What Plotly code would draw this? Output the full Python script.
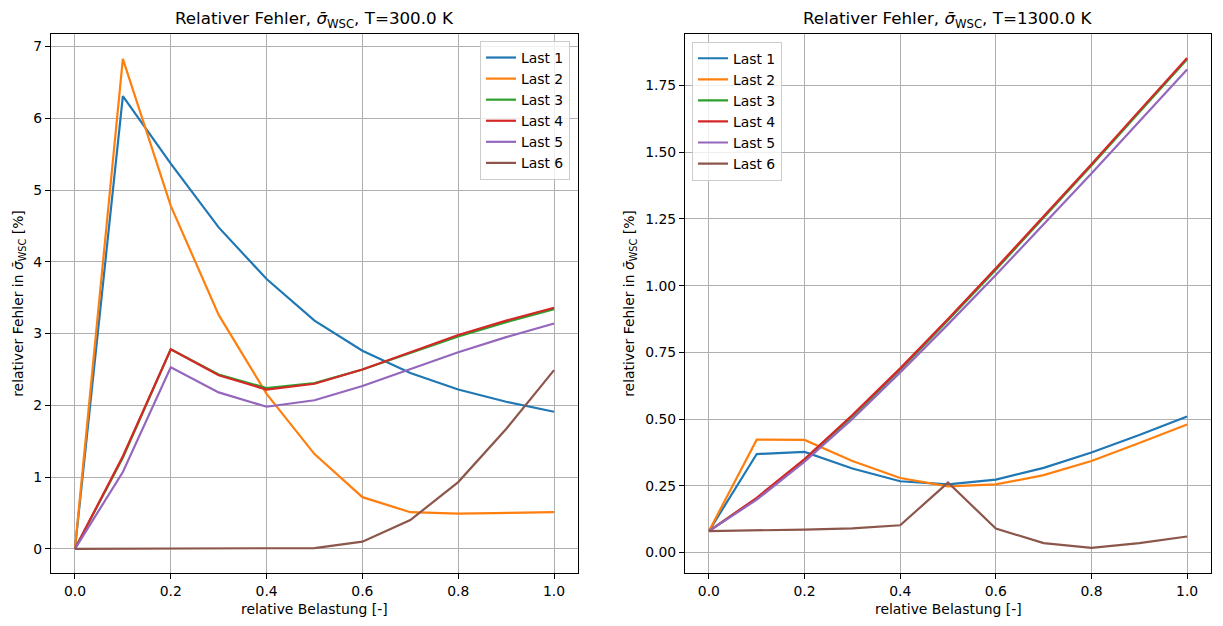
import plotly.graph_objects as go

x_load = [0.0, 0.1, 0.2, 0.3, 0.4, 0.5, 0.6, 0.7, 0.8, 0.9, 1.0]
series_names = ["Last 1", "Last 2", "Last 3", "Last 4", "Last 5", "Last 6"]
colors = ["#1f77b4", "#ff7f0e", "#2ca02c", "#d62728", "#9467bd", "#8c564b"]

# T = 300 K
t300_last1 = [0.0, 6.31, 5.37, 4.48, 3.76, 3.18, 2.76, 2.45, 2.22, 2.05, 1.91]
t300_last2 = [0.0, 6.83, 4.78, 3.26, 2.16, 1.32, 0.72, 0.51, 0.49, 0.50, 0.51]
t300_last3 = [0.0, 1.27, 2.78, 2.43, 2.24, 2.31, 2.50, 2.73, 2.96, 3.16, 3.34]
t300_last4 = [0.0, 1.29, 2.78, 2.42, 2.22, 2.30, 2.50, 2.74, 2.98, 3.18, 3.36]
t300_last5 = [0.0, 1.07, 2.53, 2.18, 1.98, 2.07, 2.27, 2.51, 2.74, 2.95, 3.14]
t300_last6 = [0.0, 0.0, 0.0, 0.0, 0.0, 0.01, 0.10, 0.40, 0.93, 1.67, 2.49]

# T = 1300 K
t1300_last1 = [0.08, 0.369, 0.377, 0.315, 0.267, 0.255, 0.273, 0.317, 0.375, 0.44, 0.51]
t1300_last2 = [0.08, 0.423, 0.422, 0.343, 0.279, 0.248, 0.255, 0.29, 0.343, 0.41, 0.48]
t1300_last3 = [0.08, 0.203, 0.348, 0.51, 0.685, 0.87, 1.06, 1.255, 1.45, 1.65, 1.848]
t1300_last4 = [0.08, 0.205, 0.35, 0.515, 0.69, 0.875, 1.065, 1.26, 1.455, 1.655, 1.853]
t1300_last5 = [0.08, 0.198, 0.34, 0.50, 0.675, 0.855, 1.04, 1.23, 1.42, 1.615, 1.81]
t1300_last6 = [0.08, 0.082, 0.086, 0.09, 0.102, 0.262, 0.09, 0.035, 0.017, 0.035, 0.06]

x_ticks = [0.0, 0.2, 0.4, 0.6, 0.8, 1.0]
x_ticklabels = ["0.0", "0.2", "0.4", "0.6", "0.8", "1.0"]
y_ticks_left = [0, 1, 2, 3, 4, 5, 6, 7]
y_ticks_right = [0.0, 0.25, 0.5, 0.75, 1.0, 1.25, 1.5, 1.75]

title_left = "Relativer Fehler, <i>σ̄</i><sub>WSC</sub>, T=300.0 K"
title_right = "Relativer Fehler, <i>σ̄</i><sub>WSC</sub>, T=1300.0 K"
xlabel = "relative Belastung [-]"
ylabel = "relativer Fehler in <i>σ̄</i><sub>WSC</sub> [%]"

W, H = 1223, 626
FONT = "DejaVu Sans"
FS = 13.9

left_sets = [t300_last1, t300_last2, t300_last3, t300_last4, t300_last5, t300_last6]
right_sets = [t1300_last1, t1300_last2, t1300_last3, t1300_last4, t1300_last5, t1300_last6]

fig = go.Figure()
for i, (name, ys) in enumerate(zip(series_names, left_sets)):
    fig.add_trace(go.Scatter(x=x_load, y=ys, mode="lines", name=name,
                             line=dict(color=colors[i], width=2.2),
                             xaxis="x", yaxis="y", legend="legend",
                             legendgroup="L%d" % i))
for i, (name, ys) in enumerate(zip(series_names, right_sets)):
    fig.add_trace(go.Scatter(x=x_load, y=ys, mode="lines", name=name,
                             line=dict(color=colors[i], width=2.2),
                             xaxis="x2", yaxis="y2", legend="legend2",
                             legendgroup="R%d" % i))

def px_x(p):
    return p / W

def px_y(p):
    return 1 - p / H

axis_common = dict(showline=True, mirror=True, linecolor="black", linewidth=1.1,
                   ticks="outside", ticklen=5, tickwidth=1.1, tickcolor="black",
                   showgrid=True, gridcolor="#b0b0b0", gridwidth=1.1,
                   zeroline=False, automargin=False,
                   tickfont=dict(family=FONT, size=FS, color="black"))

y_dom = [px_y(573.3), px_y(34.3)]
fig.update_layout(
    width=W, height=H,
    margin=dict(l=0, r=0, t=0, b=0),
    paper_bgcolor="white", plot_bgcolor="white",
    font=dict(family=FONT, size=FS, color="black"),
    xaxis=dict(domain=[px_x(51), px_x(578)], range=[-0.05, 1.05],
               tickvals=x_ticks, ticktext=x_ticklabels, anchor="y", **axis_common),
    yaxis=dict(domain=y_dom, range=[-0.3415, 7.1715], tickvals=y_ticks_left,
               anchor="x", **axis_common),
    xaxis2=dict(domain=[px_x(685), px_x(1211)], range=[-0.05, 1.05],
                tickvals=x_ticks, ticktext=x_ticklabels, anchor="y2", **axis_common),
    yaxis2=dict(domain=y_dom, range=[-0.078, 1.942], tickvals=y_ticks_right,
                tickformat=".2f", anchor="x2", **axis_common),
    legend=dict(x=px_x(480), y=px_y(41), xanchor="left", yanchor="top",
                bgcolor="rgba(255,255,255,0.8)", bordercolor="#cccccc", borderwidth=1,
                font=dict(family=FONT, size=FS), tracegroupgap=0, itemwidth=30),
    legend2=dict(x=px_x(692), y=px_y(41.7), xanchor="left", yanchor="top",
                 bgcolor="rgba(255,255,255,0.8)", bordercolor="#cccccc", borderwidth=1,
                 font=dict(family=FONT, size=FS), tracegroupgap=0, itemwidth=30),
    showlegend=True,
)

ann = []
for cx, t in [((51 + 578) / 2, title_left), ((685 + 1211) / 2, title_right)]:
    ann.append(dict(text=t, x=px_x(cx), y=px_y(20), xref="paper", yref="paper",
                    xanchor="center", yanchor="middle", showarrow=False,
                    font=dict(family=FONT, size=16.7, color="black")))
for cx in [(51 + 578) / 2, (685 + 1211) / 2]:
    ann.append(dict(text=xlabel, x=px_x(cx), y=px_y(609), xref="paper", yref="paper",
                    xanchor="center", yanchor="middle", showarrow=False,
                    font=dict(family=FONT, size=FS, color="black")))
for cx in [19, 630]:
    ann.append(dict(text=ylabel, x=px_x(cx), y=px_y(303.8), xref="paper", yref="paper",
                    xanchor="center", yanchor="middle", showarrow=False, textangle=-90,
                    font=dict(family=FONT, size=FS, color="black")))
fig.update_layout(annotations=ann)

fig.write_html("out.html", config={"displayModeBar": False},
               post_script="document.body.style.margin='0';")
